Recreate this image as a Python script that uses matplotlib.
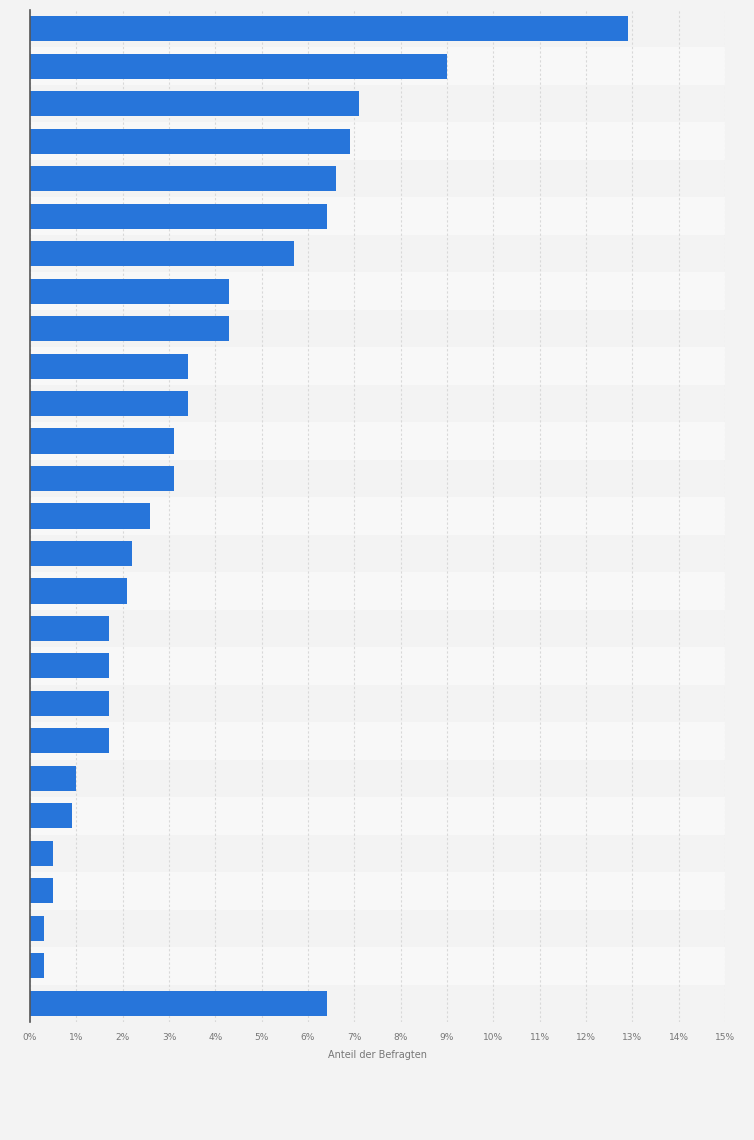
import numpy as np
import matplotlib.pyplot as plt

# values, top to bottom (percent of respondents)
shares = [12.9, 9.0, 7.1, 6.9, 6.6, 6.4, 5.7, 4.3, 4.3, 3.4, 3.4, 3.1, 3.1,
          2.6, 2.2, 2.1, 1.7, 1.7, 1.7, 1.7, 1.0, 0.9, 0.5, 0.5, 0.3, 0.3, 6.4]
x_ticks = list(range(0, 16))
x_label = "Anteil der Befragten"

n = len(shares)
ypos = np.arange(n)

fig = plt.figure(figsize=(7.54, 11.40), dpi=100)
fig.patch.set_facecolor("#f3f3f3")
ax = fig.add_axes([30 / 754, 118 / 1140, 695 / 754, 1012 / 1140])
ax.set_facecolor("#f3f3f3")

# alternating row bands
for i in range(n):
    if i % 2 == 1:
        ax.axhspan(i - 0.5, i + 0.5, color="#f8f8f8", zorder=0, lw=0)

ax.barh(ypos, shares, height=0.67, color="#2775da", zorder=3)

ax.set_xlim(0, 15)
ax.set_ylim(n - 0.5, -0.5)
ax.set_xticks(x_ticks)
ax.set_xticklabels([f"{t}%" for t in x_ticks], fontsize=6.5, color="#777777")
ax.set_yticks([])
ax.tick_params(axis="x", length=0, pad=8)
ax.grid(axis="x", color="#d8d8d8", linestyle=(0, (2, 2)), linewidth=0.8, zorder=1)
ax.set_axisbelow(True)

for side in ["top", "right", "bottom"]:
    ax.spines[side].set_visible(False)
ax.spines["left"].set_color("#555555")
ax.spines["left"].set_linewidth(1.2)
ax.spines["left"].set_zorder(4)

ax.set_xlabel(x_label, fontsize=7, color="#777777", labelpad=6)

fig.savefig("out.png", dpi=100, facecolor=fig.get_facecolor())
